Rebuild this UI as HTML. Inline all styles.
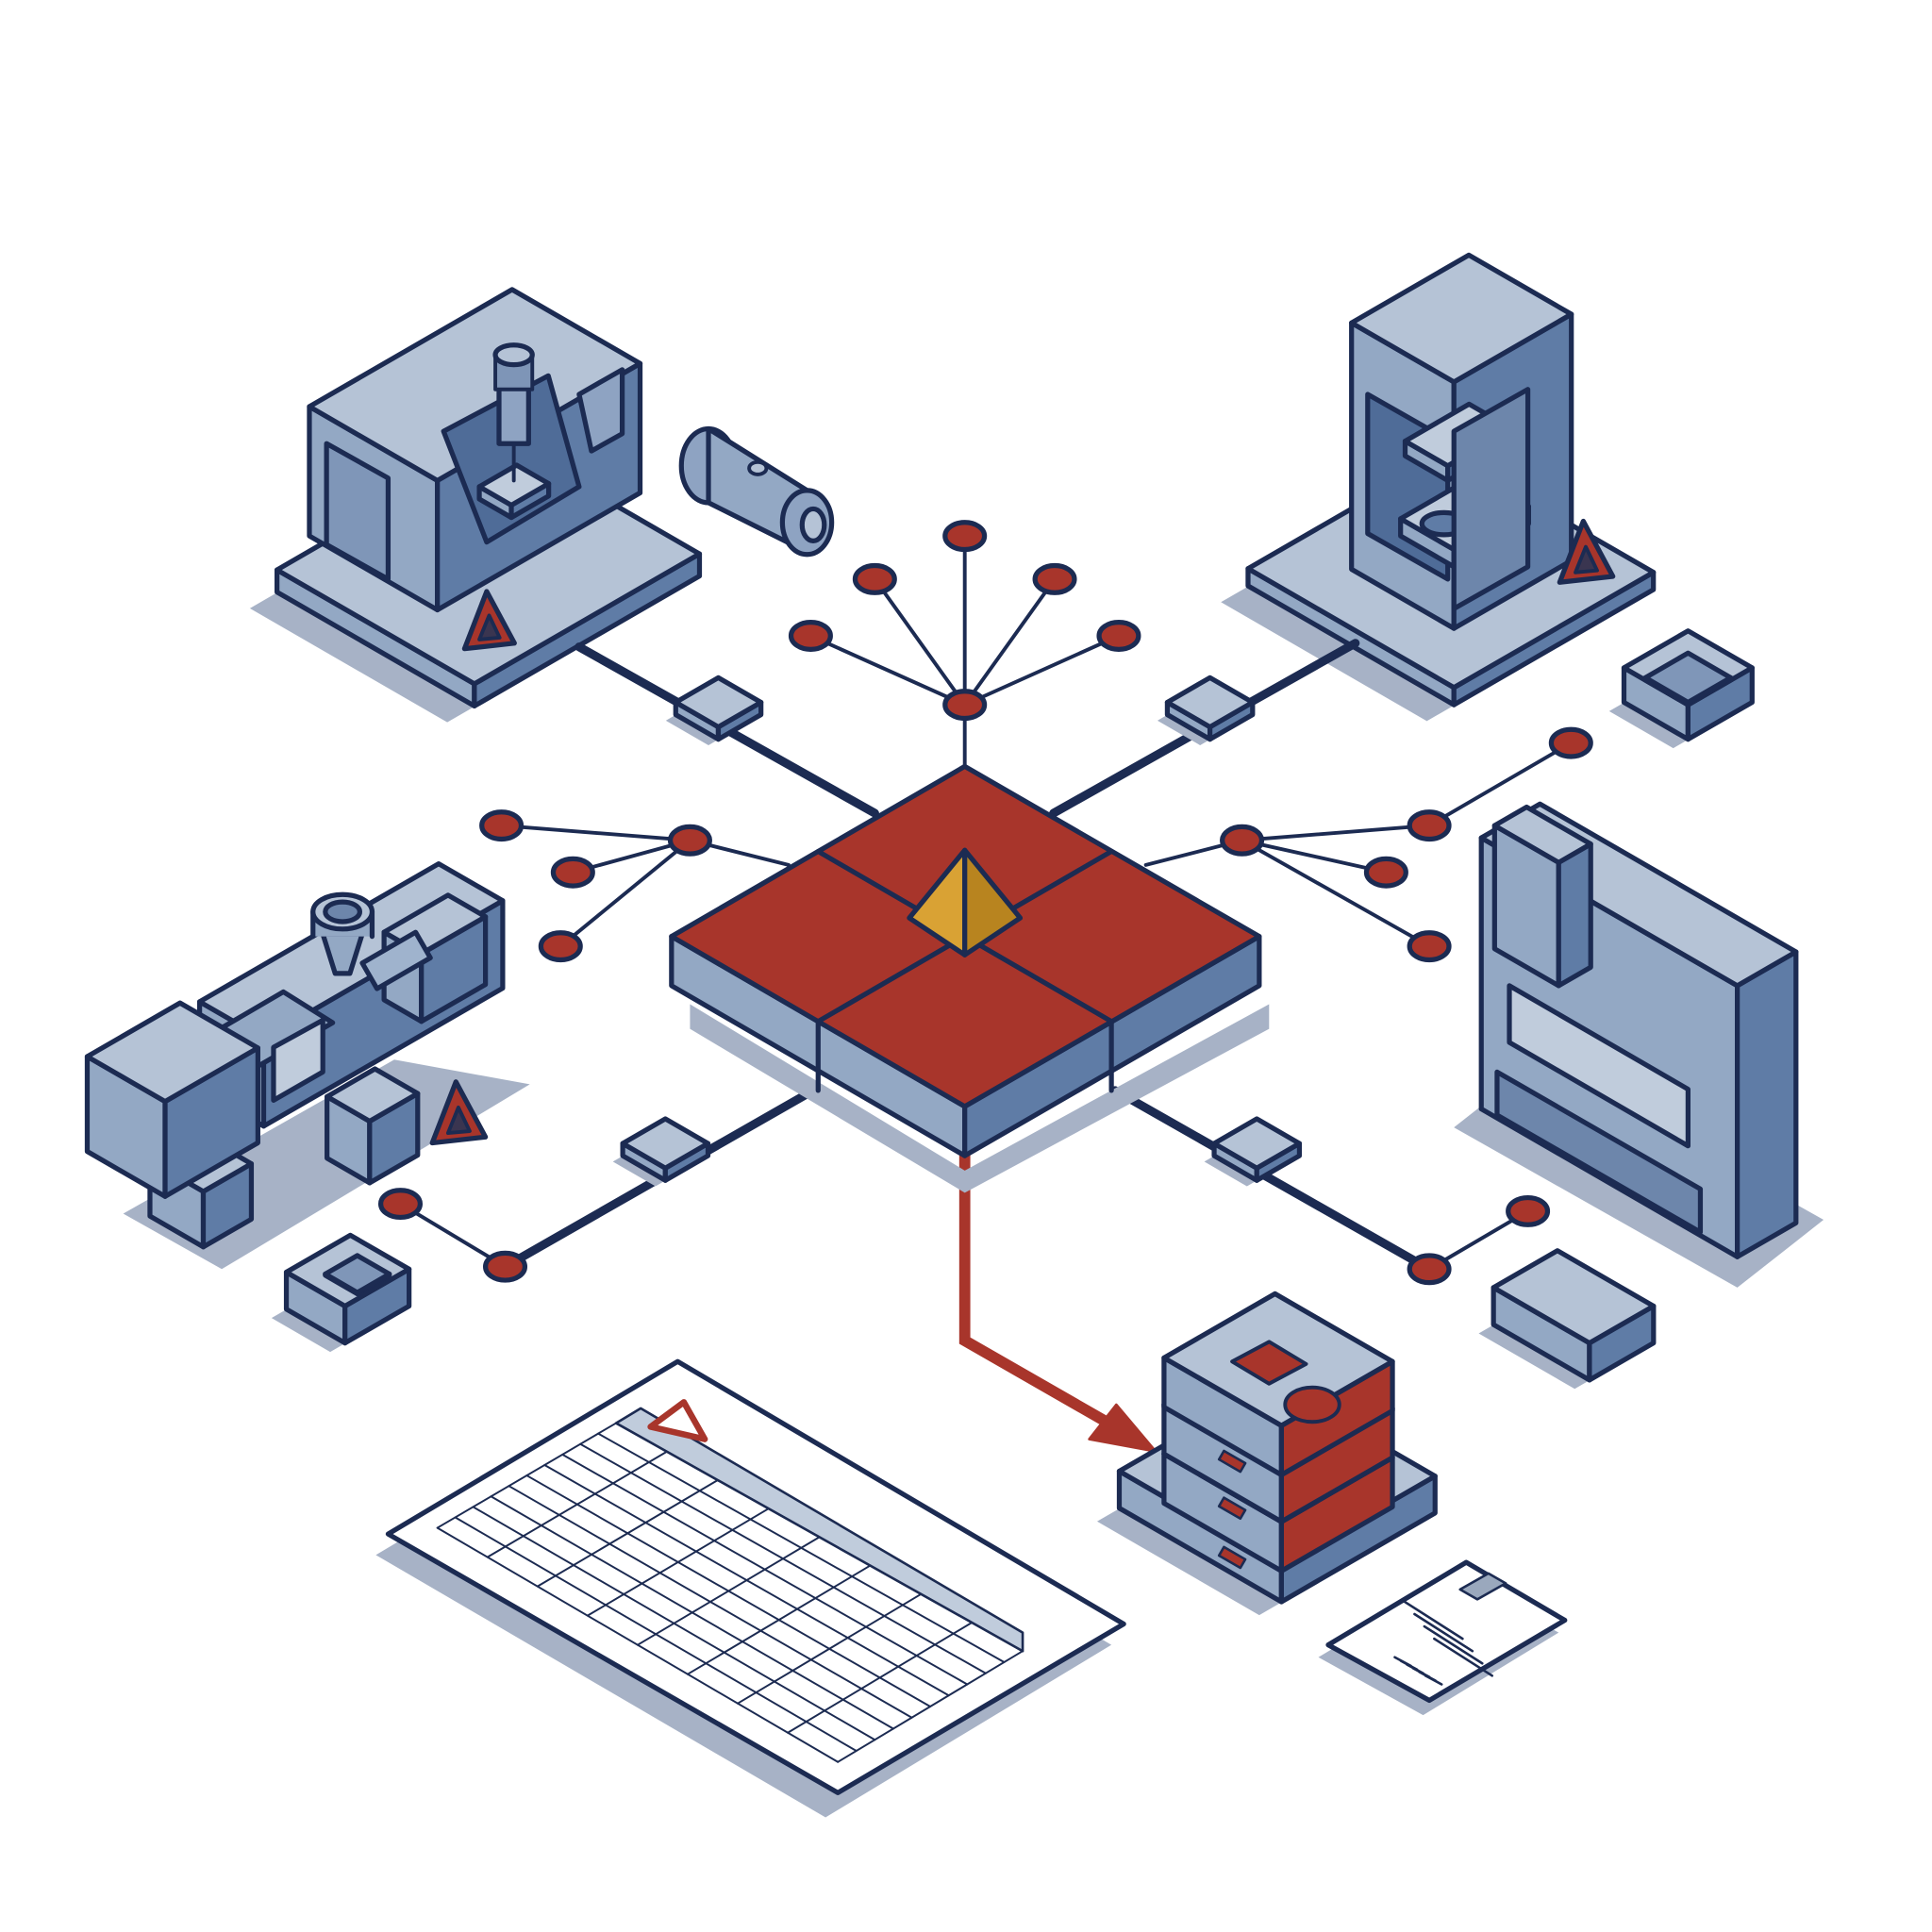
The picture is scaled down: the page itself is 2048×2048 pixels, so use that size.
<!DOCTYPE html>
<html><head><meta charset="utf-8"><style>
html,body{margin:0;padding:0;background:#fff;width:2048px;height:2048px;overflow:hidden}
svg{display:block}
</style></head><body>
<svg id="s" width="2048" height="2048" viewBox="0 0 1568 1568" xmlns="http://www.w3.org/2000/svg">
<g id="g" stroke="#1c2b52" stroke-width="4" stroke-linejoin="round" stroke-linecap="round"></g>
</svg>
<script>
const g=document.getElementById('g');
const NS='http://www.w3.org/2000/svg';
function el(t,a){const e=document.createElementNS(NS,t);for(const k in a)e.setAttribute(k,a[k]);g.appendChild(e);return e;}
function poly(pts,fill,extra){const a={points:pts.map(p=>p[0].toFixed(1)+','+p[1].toFixed(1)).join(' '),fill:fill};Object.assign(a,extra||{});return el('polygon',a);}
const TOP='#b5c3d6',LFT='#93a8c4',RGT='#5f7ca6',RED='#a8352b',SH='#a7b2c6',NAV='#1c2b52';
const c=0.866,s=0.5;
function box(x,y,a,b,h,o){o=o||{};
 const R=[c*a,-s*a],L=[-c*b,-s*b];
 const P0=[x,y-h];
 const top=[P0,[P0[0]+R[0],P0[1]+R[1]],[P0[0]+R[0]+L[0],P0[1]+R[1]+L[1]],[P0[0]+L[0],P0[1]+L[1]]];
 if(o.shadow){const d=o.shadow;poly([[x-d,y+d*0.6],[x+R[0]-d,y+R[1]+d*0.6],[x+R[0]+L[0]-d,y+R[1]+L[1]+d*0.6],[x+L[0]-d,y+L[1]+d*0.6]],SH,{stroke:'none'});}
 poly([[x,y],[x+L[0],y+L[1]],[P0[0]+L[0],P0[1]+L[1]],P0],o.l||LFT);
 poly([[x,y],[x+R[0],y+R[1]],[P0[0]+R[0],P0[1]+R[1]],P0],o.r||RGT);
 poly(top,o.t||TOP);
}
function line(x1,y1,x2,y2,w,col){el('line',{x1,y1,x2,y2,'stroke-width':w||5,stroke:col||NAV});}
function node(x,y){el('ellipse',{cx:x,cy:y,rx:16,ry:11,fill:RED,'stroke-width':4});}
function warn(x,y,sz){sz=sz||30;poly([[x,y-sz],[x+sz*0.75,y+sz*0.4],[x-sz*0.6,y+sz*0.55]],RED);poly([[x+2,y-sz*0.35],[x+sz*0.35,y+sz*0.25],[x-sz*0.2,y+sz*0.3]],'#3a3550',{'stroke-width':3});}
function sq(x,y){box(x,y+8,40,40,10,{shadow:8});}

// ===== CNC (top-left)
box(385,573,211,185,18,{shadow:22});
box(355,495,190,120,105);
poly([[265,360],[315,388],[315,470],[265,442]],'#7f96b8');
poly([[360,350],[445,305],[470,395],[395,440]],'#4f6c98');
box(415,420,35,30,10,{t:'#c0ccdc'});
el('rect',{x:405,y:310,width:24,height:50,fill:'#8ea3c2'});
el('rect',{x:402,y:288,width:30,height:28,fill:'#7e95b7','stroke-width':3});
el('ellipse',{cx:417,cy:288,rx:15,ry:8,fill:TOP});
line(417,360,417,390,3);
poly([[470,320],[505,300],[505,352],[480,366]],'#8ea3c2');
warn(395,510,30);
// tool part
el('ellipse',{cx:575,cy:378,rx:22,ry:30,fill:'#8ea3c2'});
poly([[575,348],[655,398],[655,448],[575,408]],'#93a8c4');
el('ellipse',{cx:655,cy:424,rx:20,ry:26,fill:'#8ea3c2'});
el('ellipse',{cx:660,cy:426,rx:9,ry:13,fill:TOP});
el('ellipse',{cx:615,cy:380,rx:7,ry:5,fill:TOP,'stroke-width':3});

// ===== Press (top-right)
box(1180,572,187,193,14,{shadow:22});
box(1180,510,110,96,200);
poly([[1110,320],[1175,357],[1175,470],[1110,433]],'#4f6c98');
box(1175,390,60,40,12,{t:'#c0ccdc'});
box(1180,460,70,50,14,{t:'#c0ccdc'});
el('ellipse',{cx:1172,cy:425,rx:18,ry:9,fill:'#5f7ca6'});
poly([[1180,350],[1240,316],[1240,460],[1180,494]],'#6d86ab');
warn(1285,455,32);
// part right of press
box(1370,600,60,60,28,{shadow:12});
box(1370,572,40,40,2,{t:'#7f96b8',l:TOP,r:TOP});

// ===== Injection machine (left)
poly([[100,985],[320,860],[430,880],[180,1030]],SH,{stroke:'none'});
box(165,1012,45,50,45);
box(300,960,45,40,50);
box(214,914,224,60,71);
box(342,829,60,35,55);
el('rect',{x:300,y:780,width:50,height:24,fill:'#9fb3cd',transform:'rotate(-30 300 792)'});
poly([[170,840],[230,805],[270,830],[210,865]],'#93a8c4');
box(134,971,87,73,77);
poly([[222,850],[262,828],[262,870],[222,893]],'#c0ccdc');
poly([[262,758],[294,758],[284,790],[272,790]],'#93a8c4');
el('rect',{x:254,y:740,width:48,height:20,fill:'#93a8c4',stroke:'none'});
line(254,740,254,760,4);line(302,740,302,760,4);
el('ellipse',{cx:278,cy:740,rx:24,ry:14,fill:TOP});
el('ellipse',{cx:278,cy:740,rx:14,ry:8,fill:'#6d86ab'});
warn(370,910,32);
// part below
box(280,1090,60,55,30,{shadow:12});
box(290,1050,30,30,1,{t:'#7f96b8',l:TOP,r:TOP});

// ===== Press brake (right)
poly([[1180,915],[1410,1045],[1480,990],[1250,860]],SH,{stroke:'none'});
box(1410,1020,55,240,220);
poly([[1215,870],[1380,965],[1380,1000],[1215,905]],'#6d86ab');
poly([[1225,800],[1370,884],[1370,930],[1225,846]],'#c0ccdc');
box(1265,800,30,60,100);
// part
box(1290,1120,60,90,30,{shadow:12});

// ===== Connection lines
line(470,525,710,660,7);line(855,660,1100,522,7);
line(660,885,410,1028,7);line(905,885,1160,1030,7);
sq(583,592);sq(982,592);sq(540,950);sq(1020,950);
// red arrow
el('polyline',{points:'783,938 783,1088 905,1158',fill:'none',stroke:RED,'stroke-width':9,'stroke-linejoin':'miter'});
poly([[938,1178],[884,1168],[906,1140]],RED,{stroke:RED,'stroke-width':2});

// ===== Central platform
poly([[560,815],[783,950],[1030,815],[1030,835],[783,968],[560,835]],SH,{stroke:'none'});
poly([[545,760],[783,898],[783,938],[545,800]],'#93a8c4');
poly([[783,898],[1022,760],[1022,800],[783,938]],'#5f7ca6');
poly([[783,622],[1022,760],[783,898],[545,760]],RED);
line(664,691,783,760,4);line(783,760,902,829,4);
line(902,691,783,760,4);line(783,760,664,829,4);
line(664,829,664,885,4);line(902,829,902,885,4);
// gold pyramid
poly([[783,690],[738,745],[783,775]],'#d9a234');
poly([[783,690],[828,745],[783,775]],'#b8841f');

// ===== Network tree
line(783,572,783,622,3);
[[783,435],[710,470],[856,470],[658,516],[908,516]].forEach(p=>line(783,572,p[0],p[1],3));
line(560,682,640,702,3);
[[407,670],[465,708],[455,768]].forEach(p=>line(560,682,p[0],p[1],3));
line(1008,682,930,702,3);
[[1160,670],[1125,708],[1160,768]].forEach(p=>line(1008,682,p[0],p[1],3));
line(1160,670,1275,603,3);
line(410,1028,325,977,3);line(1160,1030,1240,983,3);
[[783,572],[783,435],[710,470],[856,470],[658,516],[908,516],[560,682],[407,670],[465,708],[455,768],
 [1008,682],[1160,670],[1125,708],[1160,768],[1275,603],[410,1028],[325,977],[1160,1030],[1240,983]].forEach(p=>node(p[0],p[1]));

// ===== Spreadsheet
poly([[305,1262],[540,1122],[902,1335],[670,1475]],SH,{stroke:'none'});
poly([[315,1245],[550,1105],[912,1318],[680,1455]],'#fff');
(function(){
 const A=[355,1240],B=[500,1155],C=[830,1340],D=[680,1430];
 poly([[500,1155],[520,1143],[830,1325],[830,1340]],'#c0ccdc',{'stroke-width':2});
 for(let i=0;i<=10;i++){const t=i/10;line(A[0]+(B[0]-A[0])*t,A[1]+(B[1]-A[1])*t,D[0]+(C[0]-D[0])*t,D[1]+(C[1]-D[1])*t,1.5);}
 for(let i=0;i<=8;i++){const t=i/8;line(A[0]+(D[0]-A[0])*t,A[1]+(D[1]-A[1])*t,B[0]+(C[0]-B[0])*t,B[1]+(C[1]-B[1])*t,1.5);}
})();
poly([[555,1138],[572,1168],[528,1158]],'#fff',{stroke:RED,'stroke-width':5});

// ===== Crate stack
box(1040,1300,144,152,30,{shadow:18});
box(1040,1275,104,110,40,{r:RED});
box(1040,1235,104,110,40,{r:RED});
box(1040,1197,104,110,40,{r:RED});
poly([[1000,1105],[1030,1089],[1060,1107],[1030,1123]],RED,{'stroke-width':3});
el('ellipse',{cx:1065,cy:1140,rx:22,ry:14,fill:RED,'stroke-width':3});
[1182,1220,1260].forEach(y=>el('rect',{x:990,y:y,width:20,height:8,fill:RED,'stroke-width':2,transform:'rotate(30 1000 '+(y+4)+')'}));
// label
poly([[1070,1345],[1182,1278],[1265,1325],[1155,1392]],SH,{stroke:'none'});
poly([[1078,1335],[1190,1268],[1270,1315],[1160,1380]],'#fff');
poly([[1185,1290],[1208,1277],[1222,1285],[1199,1298]],'#9aa8bd',{'stroke-width':2});
[0,1,2,3].forEach(i=>line(1140+i*8,1318+i*10-18,1195+i*8-8,1348+i*10-18,2));
for(let i=0;i<6;i++)line(1132+i*5,1345+i*3,1145+i*5,1352+i*3,2);
</script>
</body></html>
